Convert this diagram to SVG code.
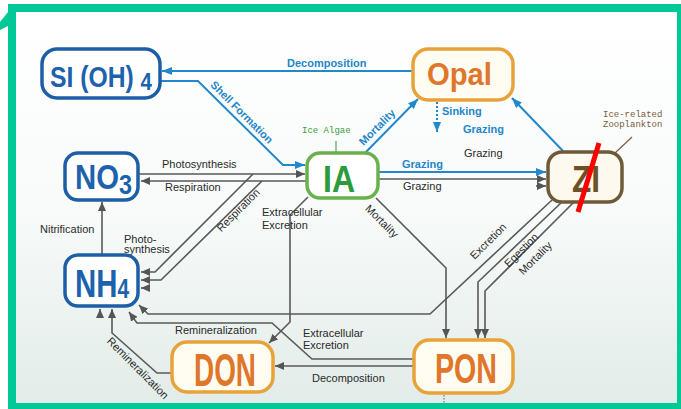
<svg xmlns="http://www.w3.org/2000/svg" width="681" height="409" viewBox="0 0 681 409">
<defs>
<linearGradient id="bg" x1="0" y1="0" x2="0" y2="1">
<stop offset="0" stop-color="#ffffff"/>
<stop offset="0.5" stop-color="#f8fbfa"/>
<stop offset="1" stop-color="#e2ece8"/>
</linearGradient>
<marker id="ag" markerUnits="userSpaceOnUse" markerWidth="9" markerHeight="8" viewBox="0 0 9 8" refX="9" refY="4" orient="auto"><path d="M0,0 L9,4 L0,8 z" fill="#555"/></marker>
<marker id="ab" markerUnits="userSpaceOnUse" markerWidth="10" markerHeight="8" viewBox="0 0 10 8" refX="10" refY="4" orient="auto"><path d="M0,0 L10,4 L0,8 z" fill="#2288cc"/></marker>
<style>
.g{fill:none;stroke:#595959;stroke-width:1.6}
.b{fill:none;stroke:#2288cc;stroke-width:2}
.lbl{font-family:"Liberation Sans",Arial,sans-serif;font-size:11px;fill:#2a2a2a}
.lb{font-family:"Liberation Sans",Arial,sans-serif;font-size:11px;fill:#1f86c8;font-weight:bold}
.mono{font-family:"Liberation Mono","DejaVu Sans Mono",monospace;font-size:9px}
.nt{font-family:"Liberation Sans",Arial,sans-serif;font-weight:bold}
.nb rect{fill:#ffffff;stroke:#1d5fa6;stroke-width:3.5}
.nb text{fill:#1d62ac}
.no rect{fill:#fffcf2;stroke:#e8a23a;stroke-width:3.5}
.no text{fill:#e0762a}
</style>
</defs>
<rect x="8" y="4" width="673" height="405" fill="#00c896"/>
<rect x="16" y="12" width="661" height="391" fill="url(#bg)"/>
<polygon points="0,22 8,12 8,26 0,30" fill="#00c896"/>

<g id="connectors">
<path class="b" d="M413,71 H162" marker-end="url(#ab)"/>
<path class="b" d="M160,81 H198 L283,165 H305" marker-end="url(#ab)"/>
<path class="b" d="M365,153 L418,99" marker-end="url(#ab)"/>
<path class="b" d="M437,102 V132" stroke-dasharray="2,2" marker-end="url(#ab)"/>
<path class="b" d="M563,151 L512,98" marker-end="url(#ab)"/>
<path class="b" d="M378,172 H546" marker-end="url(#ab)"/>
<path class="g" d="M378,179 H546" marker-end="url(#ag)"/>
<path class="g" d="M536,186 H546" marker-end="url(#ag)"/>
<path class="g" d="M139,174 H305" marker-end="url(#ag)"/>
<path class="g" d="M307,181 H141" marker-end="url(#ag)"/>
<path class="g" d="M253,174 L155,272 H141" marker-end="url(#ag)"/>
<path class="g" d="M262,181 L161,280 H141" marker-end="url(#ag)"/>
<path class="g" d="M150,288 H141" marker-end="url(#ag)"/>
<path class="g" d="M102,255 V202" marker-end="url(#ag)"/>
<path class="g" d="M308,197 L290,215 V322 L269,343" marker-end="url(#ag)"/>
<path class="g" d="M376,198 L446,268 V338" marker-end="url(#ag)"/>
<path class="g" d="M552,200 L430,314 H148 L139,305" marker-end="url(#ag)"/>
<path class="g" d="M562,202 L478,282 V338" marker-end="url(#ag)"/>
<path class="g" d="M574,202 L485,291 V338" marker-end="url(#ag)"/>
<path class="g" d="M414,366 H275" marker-end="url(#ag)"/>
<path class="g" d="M414,359 H312 L272,323 H137 L129,312" marker-end="url(#ag)"/>
<path class="g" d="M172,373 H157 L112,333 V309" marker-end="url(#ag)"/>
<path class="g" d="M100,318 V309" marker-end="url(#ag)"/>
<path d="M444,395 V403" stroke="#777" stroke-width="1.2" stroke-dasharray="1.5,1.5"/>
<path d="M336,141 V153" stroke="#5aa84a" stroke-width="1.2"/>
<path d="M632,137 L615,153" stroke="#7a6040" stroke-width="1.2"/>
</g>

<g id="labels">
<text class="lb" x="287" y="67">Decomposition</text>
<text class="lb" x="242" y="116" text-anchor="middle" transform="rotate(45 242 112)">Shell Formation</text>
<text class="lb" x="377" y="131" text-anchor="middle" transform="rotate(-45 377 127)">Mortality</text>
<text class="lb" x="442" y="115">Sinking</text>
<text class="lb" x="463" y="133">Grazing</text>
<text class="lbl" x="464" y="157">Grazing</text>
<text class="lb" x="402" y="168">Grazing</text>
<text class="lbl" x="403" y="190">Grazing</text>
<text class="mono" x="302" y="133" fill="#3a9a3a">Ice Algae</text>
<text class="mono" x="603" y="117" fill="#7a5a3a">Ice-related</text>
<text class="mono" x="603" y="127" fill="#7a5a3a">Zooplankton</text>
<text class="lbl" x="162" y="168">Photosynthesis</text>
<text class="lbl" x="165" y="191">Respiration</text>
<text class="lbl" x="238" y="214" text-anchor="middle" transform="rotate(-45 238 210)">Respiration</text>
<text class="lbl" x="124" y="243">Photo-</text>
<text class="lbl" x="124" y="253">synthesis</text>
<text class="lbl" x="40" y="233">Nitrification</text>
<text class="lbl" x="262" y="216">Extracellular</text>
<text class="lbl" x="262" y="229">Excretion</text>
<text class="lbl" x="382" y="225" text-anchor="middle" transform="rotate(45 382 221)">Mortality</text>
<text class="lbl" x="488" y="245" text-anchor="middle" transform="rotate(-45 488 241)">Excretion</text>
<text class="lbl" x="521" y="254" text-anchor="middle" transform="rotate(-45 521 250)">Egestion</text>
<text class="lbl" x="535" y="262" text-anchor="middle" transform="rotate(-45 535 258)">Mortality</text>
<text class="lbl" x="175" y="334">Remineralization</text>
<text class="lbl" x="303" y="337">Extracellular</text>
<text class="lbl" x="303" y="349">Excretion</text>
<text class="lbl" x="312" y="382">Decomposition</text>
<text class="lbl" x="138" y="372" text-anchor="middle" transform="rotate(45 138 368)">Remineralization</text>
</g>

<g id="SIOH4" class="nb">
<rect x="42" y="49" width="118" height="49" rx="15"/>
<text class="nt" x="50" y="87" font-size="29" textLength="102" lengthAdjust="spacingAndGlyphs">SI (OH) <tspan font-size="24" dy="3">4</tspan></text>
</g>
<g id="NO3" class="nb">
<rect x="65" y="153" width="73" height="47" rx="13"/>
<text class="nt" x="75" y="189" font-size="35" textLength="57" lengthAdjust="spacingAndGlyphs">NO<tspan font-size="28" dy="5">3</tspan></text>
</g>
<g id="NH4" class="nb">
<rect x="65" y="255" width="73" height="51" rx="13"/>
<text class="nt" x="75" y="297" font-size="38" textLength="54" lengthAdjust="spacingAndGlyphs">NH<tspan font-size="27" dy="1">4</tspan></text>
</g>
<g id="IA">
<rect x="307" y="153" width="71" height="45" rx="13" fill="#ffffff" stroke="#6ab04c" stroke-width="3.5"/>
<text class="nt" x="323" y="192" font-size="37" fill="#2e9b3a" textLength="32" lengthAdjust="spacingAndGlyphs">IA</text>
</g>
<g id="Opal" class="no">
<rect x="413" y="49" width="100" height="51" rx="15"/>
<text class="nt" x="427" y="85" font-size="31" textLength="65" lengthAdjust="spacingAndGlyphs">Opal</text>
</g>
<g id="ZI">
<rect x="548" y="152" width="74" height="50" rx="14" fill="#fdf9ee" stroke="#6e5a37" stroke-width="3.5"/>
<text class="nt" x="572" y="192" font-size="37" fill="#6b5028" textLength="28" lengthAdjust="spacingAndGlyphs">ZI</text>
<path d="M599,143 L578,212" stroke="#ff0000" stroke-width="5"/>
</g>
<g id="DON" class="no">
<rect x="172" y="342" width="101" height="50" rx="15"/>
<text class="nt" x="194" y="386" font-size="46" textLength="62" lengthAdjust="spacingAndGlyphs">DON</text>
</g>
<g id="PON" class="no">
<rect x="414" y="340" width="99" height="53" rx="15"/>
<text class="nt" x="435" y="383" font-size="42" textLength="62" lengthAdjust="spacingAndGlyphs">PON</text>
</g>
</svg>
